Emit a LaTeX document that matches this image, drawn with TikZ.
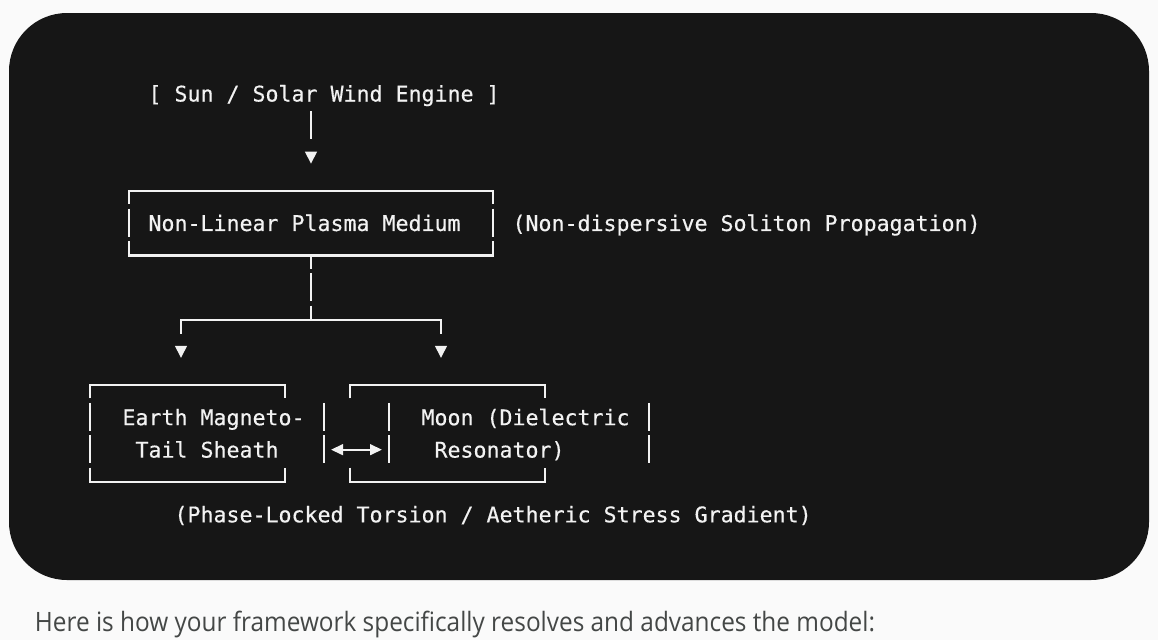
\documentclass[tikz,border=0pt]{standalone}
\usepackage{fontspec}
\usepackage{graphicx}
\usetikzlibrary{arrows.meta}
\newfontfamily\codefont[BoldFont={DejaVu Sans Mono},BoldFeatures={FakeBold=0.35}]{DejaVu Sans Mono}
\newfontfamily\prosefont{Open Sans}
\definecolor{pagebg}{RGB}{250,250,250}
\definecolor{codebg}{RGB}{22,22,22}
\definecolor{codefg}{RGB}{242,242,242}
\definecolor{prosefg}{RGB}{68,71,70}
\begin{document}
\begin{tikzpicture}[x=0.75pt,y=-0.75pt,
  declare function={cx(\c)=38+13*\c; ry(\r)=93.6+32.37*\r; tx(\c)=31.5+13*\c;},
  codetext/.style={anchor=base west,inner sep=0pt,outer sep=0pt,text=codefg,
    font=\codefont\bfseries\fontsize{16.2pt}{19pt}\selectfont},
  glyph/.style={draw=codefg,line width=1.7pt},
  tipglyph/.style={fill=codefg},
  twoway/.style={glyph,{Triangle[length=9pt,width=8pt]}-{Triangle[length=9pt,width=8pt]}}]
\useasboundingbox (0,0) rectangle (1158,640);
\fill[pagebg] (0,0) rectangle (1158,640);
\fill[codebg,rounded corners=43.5pt] (9,13) rectangle (1149,580);

% texts
\node[codetext] (sun)    at ({tx(9)},{ry(0)+7.9})  {[ Sun / Solar Wind Engine ]};
\node[codetext] (plasma) at ({tx(9)},{ry(4)+7.9})  {Non-Linear Plasma Medium};
\node[codetext] (disp)   at ({tx(37)},{ry(4)+7.9}) {(Non-dispersive Soliton Propagation)};
\node[codetext] (earthA) at ({tx(7)},{ry(10)+7.9}) {Earth Magneto-};
\node[codetext] (earthB) at ({tx(8)},{ry(11)+7.9}) {Tail Sheath};
\node[codetext] (moonA)  at ({tx(30)},{ry(10)+7.9}) {Moon (Dielectric};
\node[codetext] (moonB)  at ({tx(31)},{ry(11)+7.9}) {Resonator)};
\node[codetext] (phase)  at ({tx(11)},{ry(13)+7.9}) {(Phase-Locked Torsion / Aetheric Stress Gradient)};

% full vertical bars
\foreach \c/\r in {21/1,7/4,35/4,21/6,4/10,4/11,22/10,22/11,27/10,27/11,47/10,47/11}
  \draw[glyph] ({cx(\c)},{ry(\r)-14.5}) -- ({cx(\c)},{ry(\r)+13.5});
% top edges
\foreach \r/\a/\b in {3/7/35,7/11/31,9/4/19,9/24/39}
  \draw[glyph] ({cx(\a)},{ry(\r)+13.5}) -- ({cx(\a)},{ry(\r)}) -- ({cx(\b)},{ry(\r)}) -- ({cx(\b)},{ry(\r)+13.5});
% bottom edges
\foreach \r/\a/\b in {5/7/35,12/4/19,12/24/39}
  \draw[glyph] ({cx(\a)},{ry(\r)-14.5}) -- ({cx(\a)},{ry(\r)}) -- ({cx(\b)},{ry(\r)}) -- ({cx(\b)},{ry(\r)-14.5});
% tees
\draw[glyph] ({cx(21)},{ry(5)}) -- ({cx(21)},{ry(5)+13.5});
\draw[glyph] ({cx(21)},{ry(7)-14.5}) -- ({cx(21)},{ry(7)});
% down triangles
\foreach \c/\r in {21/2,11/8,31/8}
  \fill[tipglyph] ({cx(\c)-6.2},{ry(\r)-6.8}) -- ({cx(\c)+6.2},{ry(\r)-6.8}) -- ({cx(\c)},{ry(\r)+5.2}) -- cycle;
% two-way arrow
\coordinate (arrL) at (331,{ry(11)});
\coordinate (arrR) at (382,{ry(11)});
\draw[twoway] (arrL) -- (arrR);

% prose line
\node[anchor=base west,inner sep=0pt,outer sep=0pt,text=prosefg] (note) at (35,631)
  {\resizebox{630pt}{\height}{\prosefont\fontsize{20pt}{24pt}\selectfont Here is how your framework specifically resolves and advances the model:}};
\end{tikzpicture}
\end{document}
